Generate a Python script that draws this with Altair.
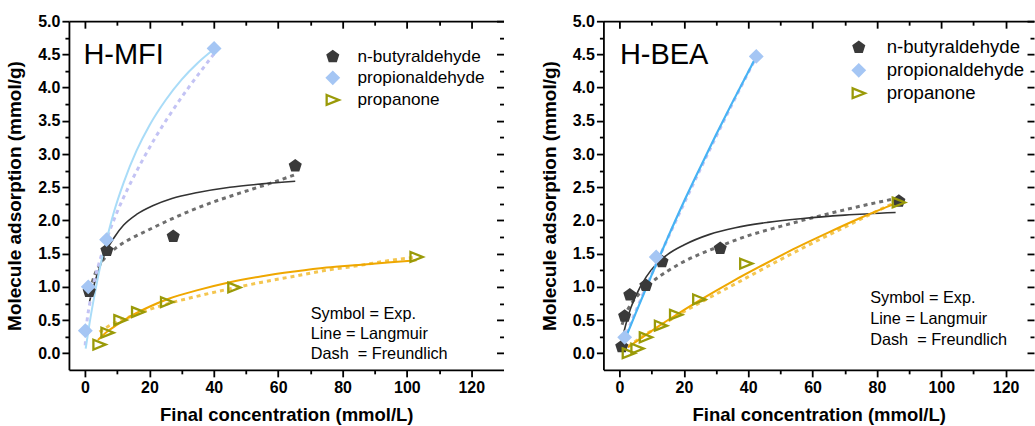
import altair as alt
import pandas as pd

FONT = "Liberation Sans"
SERIES = ["n-butyraldehyde", "propionaldehyde", "propanone"]
PENTAGON = "M0,-1L0.951,-0.309L0.588,0.809L-0.588,0.809L-0.951,-0.309Z"
TRI_RIGHT = "M-1,-0.8L1,0L-1,0.8Z"
SHAPES = [PENTAGON, "diamond", TRI_RIGHT]
FILLS = ["#3a3a3a", "#a5c6f4", "transparent"]
STROKES = ["#3a3a3a", "#a5c6f4", "#9a9a08"]
SIZES = [120, 150, 125]

X_MAJOR = [0, 20, 40, 60, 80, 100, 120]
X_MINOR = [10, 30, 50, 70, 90, 110]
Y_MAJOR = [0.0, 0.5, 1.0, 1.5, 2.0, 2.5, 3.0, 3.5, 4.0, 4.5, 5.0]
Y_MINOR = [0.25, 0.75, 1.25, 1.75, 2.25, 2.75, 3.25, 3.75, 4.25, 4.75]

# ---------------- H-MFI (left) ----------------
mfi_but_x = [1.3, 6.8, 27.4, 65.3]
mfi_but_y = [0.93, 1.55, 1.76, 2.82]
mfi_pro_x = [0.1, 1.0, 6.7, 40.1]
mfi_pro_y = [0.34, 1.00, 1.71, 4.59]
mfi_ace_x = [4.5, 7.0, 11.0, 16.5, 25.5, 46.4, 103.0]
mfi_ace_y = [0.13, 0.31, 0.50, 0.62, 0.77, 0.99, 1.45]

mfi_but_lang_x = [1.4, 2.5, 4, 5.5, 6.8, 9, 12, 16, 21, 27, 35, 45, 55, 65.3]
mfi_but_lang_y = [0.78, 0.98, 1.22, 1.42, 1.56, 1.74, 1.93, 2.09, 2.22, 2.33, 2.42, 2.50, 2.55, 2.59]
mfi_but_freu_x = [1.5, 3, 5, 6.8, 10, 14, 19, 25, 32, 40, 48, 57, 65.3]
mfi_but_freu_y = [0.95, 1.18, 1.36, 1.47, 1.60, 1.72, 1.84, 1.98, 2.13, 2.28, 2.41, 2.55, 2.69]
mfi_pro_lang_x = [0.2, 1.4, 3, 5, 6.7, 9, 12, 16, 20, 25, 30, 35, 40.1]
mfi_pro_lang_y = [0.07, 0.45, 0.89, 1.37, 1.71, 2.13, 2.57, 3.05, 3.43, 3.81, 4.12, 4.37, 4.58]
mfi_pro_freu_x = [0.05, 0.5, 1.5, 3, 5, 7.4, 10, 14, 18, 22, 27, 32, 36, 40.1]
mfi_pro_freu_y = [0.12, 0.42, 0.76, 1.11, 1.46, 1.81, 2.13, 2.55, 2.92, 3.26, 3.64, 3.99, 4.25, 4.51]
mfi_ace_lang_x = [4, 7, 10, 15, 20, 26, 35, 45, 55, 65, 75, 85, 95, 103]
mfi_ace_lang_y = [0.20, 0.33, 0.43, 0.58, 0.70, 0.82, 0.95, 1.07, 1.16, 1.23, 1.29, 1.33, 1.37, 1.40]
mfi_ace_freu_x = [4.5, 7, 10, 15, 20, 26, 35, 45, 55, 65, 75, 85, 95, 103]
mfi_ace_freu_y = [0.32, 0.40, 0.47, 0.57, 0.66, 0.75, 0.86, 0.97, 1.07, 1.16, 1.25, 1.32, 1.40, 1.45]

# ---------------- H-BEA (right) ----------------
bea_but_x = [0.7, 1.6, 3.2, 8.2, 13.2, 31.3, 86.8]
bea_but_y = [0.10, 0.56, 0.88, 1.02, 1.38, 1.58, 2.29]
bea_pro_x = [1.6, 11.4, 42.5]
bea_pro_y = [0.24, 1.45, 4.47]
bea_ace_x = [2.9, 5.6, 8.2, 12.9, 17.6, 24.8, 39.4, 86.8]
bea_ace_y = [0.00, 0.07, 0.24, 0.415, 0.58, 0.81, 1.35, 2.27]

bea_but_lang_x = [0.8, 2, 3.5, 5.2, 8.3, 11.4, 15, 20, 28, 36, 46, 57, 70, 85.8]
bea_but_lang_y = [0.20, 0.44, 0.68, 0.88, 1.15, 1.34, 1.49, 1.63, 1.79, 1.89, 1.97, 2.03, 2.08, 2.12]
bea_but_freu_x = [0.8, 2, 4, 6, 10, 15, 20, 30, 40, 50, 60, 70, 80, 87]
bea_but_freu_y = [0.43, 0.60, 0.77, 0.89, 1.07, 1.24, 1.38, 1.59, 1.77, 1.91, 2.04, 2.16, 2.27, 2.34]
bea_pro_lang_x = [1.3, 5, 10, 15, 20, 25, 30, 35, 42.3]
bea_pro_lang_y = [0.16, 0.60, 1.18, 1.74, 2.28, 2.79, 3.29, 3.77, 4.45]
bea_pro_freu_x = [1.3, 5, 10, 15, 20, 25, 30, 35, 42.3]
bea_pro_freu_y = [0.19, 0.63, 1.19, 1.73, 2.25, 2.76, 3.26, 3.75, 4.44]
bea_ace_lang_x = [2.6, 5, 8, 13, 18, 25, 35, 45, 55, 65, 75, 86]
bea_ace_lang_y = [0.09, 0.17, 0.27, 0.435, 0.59, 0.80, 1.08, 1.34, 1.59, 1.82, 2.04, 2.26]
bea_ace_freu_x = [2.6, 8, 13, 18, 25, 35, 50, 60, 70, 80, 86.5]
bea_ace_freu_y = [0.10, 0.28, 0.42, 0.57, 0.76, 1.02, 1.41, 1.66, 1.90, 2.14, 2.29]

NOTE_LINES = ["Symbol = Exp.", "Line = Langmuir", "Dash\u00a0 = Freundlich"]
X_TITLE = "Final concentration (mmol/L)"
Y_TITLE = "Molecule adsorption (mmol/g)"

AX = dict(grid=False, domainColor="black", domainWidth=1.8, tickColor="black", tickWidth=1.8)


def ax(**kw):
    d = dict(AX)
    d.update(kw)
    return alt.Axis(**d)


def panel(name, pts, curves, xmax, width, leg, note, label_pos):
    xs = alt.Scale(domain=[-5, xmax], nice=False, zero=False)
    ys = alt.Scale(domain=[-0.25, 5.0], nice=False, zero=False)
    rows = []
    for s, (xv, yv) in zip(SERIES, pts):
        for a, b in zip(xv, yv):
            rows.append({"series": s, "x": a, "y": b})
    pdf = pd.DataFrame(rows)

    def axis_layer(xaxis, yaxis):
        return alt.Chart(pdf).mark_point(opacity=0).encode(
            x=alt.X("x:Q", scale=xs, axis=xaxis),
            y=alt.Y("y:Q", scale=ys, axis=yaxis),
        )

    layers = [
        axis_layer(ax(orient="bottom", values=X_MINOR, tickSize=4, labels=False, domain=False, title=None),
                   ax(orient="left", values=Y_MINOR, tickSize=4, labels=False, domain=False, title=None)),
        axis_layer(ax(orient="top", ticks=False, labels=False, domain=True, title=None),
                   ax(orient="right", values=Y_MAJOR, tickSize=7, offset=-7, labels=False, domain=False, title=None)),
        axis_layer(ax(orient="top", values=X_MAJOR, tickSize=7, offset=-7, labels=False, domain=False, title=None),
                   ax(orient="right", values=Y_MINOR, tickSize=4, offset=-4, labels=False, domain=False, title=None)),
        axis_layer(ax(orient="top", values=X_MINOR, tickSize=4, offset=-4, labels=False, domain=False, title=None),
                   None),
    ]

    for (xv, yv, color, w, dash) in curves:
        df = pd.DataFrame({"x": xv, "y": yv})
        kw = dict(color=color, strokeWidth=w, interpolate="monotone")
        if dash:
            kw["strokeDash"] = dash
        layers.append(alt.Chart(df).mark_line(**kw).encode(
            x=alt.X("x:Q", scale=xs, axis=None),
            y=alt.Y("y:Q", scale=ys, axis=None),
        ))

    legend = alt.Legend(title=None, orient="none", legendX=leg["x"], legendY=leg["y"],
                        labelFont=FONT, labelFontSize=leg["fs"], labelColor="black",
                        rowPadding=leg["rp"], labelOffset=leg["lo"], padding=0,
                        symbolStrokeWidth=2.3)
    layers.append(alt.Chart(pdf).mark_point(opacity=1, strokeWidth=2.3, filled=False).encode(
        x=alt.X("x:Q", scale=xs, axis=ax(orient="bottom", values=X_MAJOR, tickSize=7, title=X_TITLE,
                                           labelFont=FONT, labelFontSize=16, labelFontWeight="bold",
                                           labelColor="black", labelPadding=3, labelFlush=False,
                                           titleFont=FONT, titleFontSize=18.5, titleFontWeight="bold",
                                           titleColor="black", titlePadding=10)),
        y=alt.Y("y:Q", scale=ys, axis=ax(orient="left", values=Y_MAJOR, format=".1f", tickSize=7, title=Y_TITLE,
                                           labelFont=FONT, labelFontSize=16, labelFontWeight="bold",
                                           labelColor="black", labelPadding=2,
                                           titleFont=FONT, titleFontSize=19, titleFontWeight="bold",
                                           titleColor="black", titlePadding=13)),
        shape=alt.Shape("series:N", scale=alt.Scale(domain=SERIES, range=SHAPES), legend=legend),
        fill=alt.Fill("series:N", scale=alt.Scale(domain=SERIES, range=FILLS), legend=legend),
        stroke=alt.Stroke("series:N", scale=alt.Scale(domain=SERIES, range=STROKES), legend=legend),
        size=alt.Size("series:N", scale=alt.Scale(domain=SERIES, range=SIZES), legend=legend),
    ))

    one = alt.Data(values=[{"k": 1}])
    layers.append(alt.Chart(one).mark_text(text=name, align="left", baseline="alphabetic",
                                           font=FONT, fontSize=29, color="black").encode(
        x=alt.value(label_pos[0]), y=alt.value(label_pos[1])))
    layers.append(alt.Chart(one).mark_text(text=NOTE_LINES, align="left", baseline="alphabetic",
                                           font=FONT, fontSize=16.3, color="black",
                                           lineHeight=note[2]).encode(
        x=alt.value(note[0]), y=alt.value(note[1])))

    return alt.layer(*layers).resolve_axis(x="independent", y="independent").properties(
        width=width, height=349)


left = panel(
    "H-MFI",
    [(mfi_but_x, mfi_but_y), (mfi_pro_x, mfi_pro_y), (mfi_ace_x, mfi_ace_y)],
    [
        (mfi_but_freu_x, mfi_but_freu_y, "#6e6e6e", 3, [4, 4]),
        (mfi_but_lang_x, mfi_but_lang_y, "#333333", 1.6, None),
        (mfi_pro_freu_x, mfi_pro_freu_y, "#c3c3f4", 3, [4, 4]),
        (mfi_pro_lang_x, mfi_pro_lang_y, "#a9dcf8", 2, None),
        (mfi_ace_freu_x, mfi_ace_freu_y, "#f4c650", 3, [4, 4]),
        (mfi_ace_lang_x, mfi_ace_lang_y, "#efa700", 2, None),
    ],
    130, 435,
    dict(x=255.5, y=27, fs=17.2, rp=1.1, lo=16.2),
    (242, 298, 20),
    (14.5, 42.5),
)

right = panel(
    "H-BEA",
    [(bea_but_x, bea_but_y), (bea_pro_x, bea_pro_y), (bea_ace_x, bea_ace_y)],
    [
        (bea_but_freu_x, bea_but_freu_y, "#6e6e6e", 3, [4, 4]),
        (bea_but_lang_x, bea_but_lang_y, "#333333", 1.6, None),
        (bea_pro_freu_x, bea_pro_freu_y, "#c3c3f4", 3, [4, 4]),
        (bea_pro_lang_x, bea_pro_lang_y, "#47b3f4", 2.2, None),
        (bea_ace_freu_x, bea_ace_freu_y, "#f4c650", 3, [4, 4]),
        (bea_ace_lang_x, bea_ace_lang_y, "#efa700", 2, None),
    ],
    128.8, 431,
    dict(x=246.3, y=17, fs=18.6, rp=1.9, lo=18.7),
    (267, 282, 21),
    (16.5, 42.5),
)

chart = alt.hconcat(left, right, spacing=35).resolve_scale(
    shape="independent", fill="independent", stroke="independent", size="independent"
).resolve_legend(
    shape="independent", fill="independent", stroke="independent", size="independent"
).properties(
    padding={"left": 5, "top": 13, "right": 0, "bottom": 0},
    background="white",
).configure_view(stroke=None)

chart.save("out.html", embed_options={"renderer": "svg", "actions": False})
